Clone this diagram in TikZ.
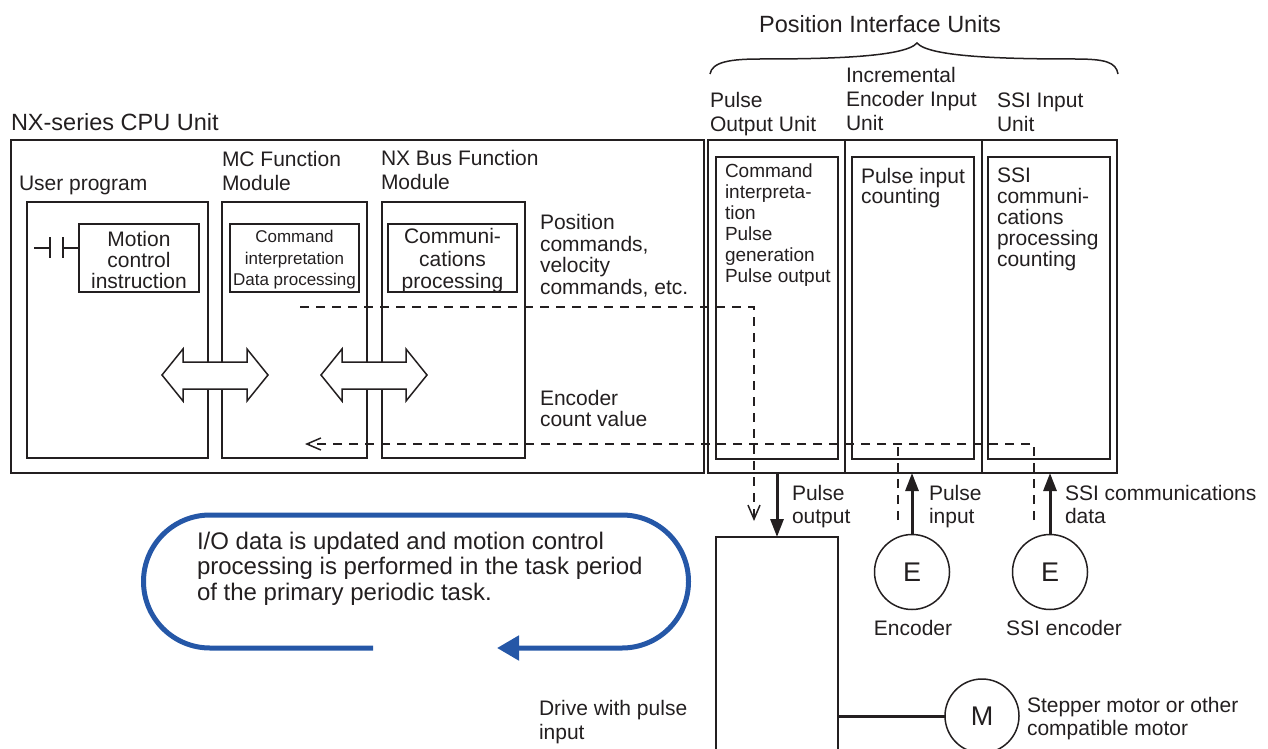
\documentclass[tikz,border=0pt]{standalone}
\usepackage{fontspec}
\setmainfont{Liberation Sans}
\usetikzlibrary{arrows.meta}
\definecolor{ink}{HTML}{231F20}
\definecolor{loopblue}{HTML}{2557A7}
\begin{document}
\begin{tikzpicture}[x=1pt,y=-1pt,
  every node/.style={inner sep=0pt, outer sep=0pt, text=ink},
  box/.style={draw=ink, line width=1.5pt, anchor=north west},
  unitbox/.style={draw=ink, line width=2.8pt, anchor=north west},
  fa/.style={font=\fontsize{21}{24}\selectfont, align=left, anchor=north west},
  fb/.style={font=\fontsize{21}{21}\selectfont, align=left, anchor=north west},
  fbig/.style={font=\fontsize{23.5}{26}\selectfont},
  dashline/.style={draw=ink, line width=1.5pt, dash pattern=on 9pt off 7pt},
  openhead/.style={-{Straight Barb[length=14pt,width=12pt]}},
  thickarrow/.style={draw=ink, line width=3pt, -{Triangle[length=18pt,width=13pt]}},
  encircle/.style={circle, draw=ink, line width=1.5pt, minimum size=75pt, font=\fontsize{27}{27}\selectfont},
  dblarrow/.style={draw=ink, line width=1.5pt, fill=white, line join=miter}
]
\path[use as bounding box, clip] (0,0) rectangle (1268,749);

% titles
\node[fbig, anchor=base] (piu) at (880,33) {Position Interface Units};
\draw[ink, line width=1.5pt] (710,74) .. controls (712,62) and (730,59) .. (760,59)
   .. controls (830,59) and (905,57) .. (917,43)
   .. controls (929,57) and (1004,59) .. (1075,59)
   .. controls (1105,59) and (1116,62) .. (1118,74);
\node[fbig, anchor=base west] (cpulbl) at (11,131) {NX-series CPU Unit};
\node[fa] (poulbl) at (710,92.7) {Pulse\\Output Unit};
\node[fa] (inclbl) at (846,67.7) {Incremental\\Encoder Input\\Unit};
\node[fa] (ssilbl) at (997,92.7) {SSI Input\\Unit};

% CPU unit
\node[unitbox, line width=2.5pt, minimum width=693pt, minimum height=333pt] (cpu) at (11,140) {};
\node[font=\fontsize{21}{21}\selectfont, anchor=base west] (uplbl) at (19,190) {User program};
\node[fa] (mclbl) at (222,151.7) {MC Function\\Module};
\node[fa] (nxlbl) at (381,150.7) {NX Bus Function\\Module};
\node[box, minimum width=181pt, minimum height=256pt] (user) at (27,202) {};
\node[box, minimum width=145pt, minimum height=256pt] (mc) at (222,202) {};
\node[box, minimum width=143pt, minimum height=256pt] (nxb) at (382,202) {};
\node[box, minimum width=120pt, minimum height=68pt] (motion) at (79,224) {};
\node[box, minimum width=129pt, minimum height=68pt] (cmdint) at (230,224) {};
\node[box, minimum width=129pt, minimum height=68pt] (comm) at (388,224) {};
\node[fb, align=center, anchor=north] (motiontxt) at (139,231) {Motion\\control\\instruction};
\node[font=\fontsize{17}{21.5}\selectfont, align=center, anchor=north] (cmdtxt) at (294.5,230.5) {Command\\interpretation\\Data processing};
\node[font=\fontsize{21}{22.5}\selectfont, align=center, anchor=north] (commtxt) at (452.5,228.5) {Communi-\\cations\\processing};
% contact symbol
\draw[ink, line width=1.5pt] (34,248) -- (50,248) (50,237) -- (50,258) (63,237) -- (63,258) (63,248) -- (motion.west |- 0,248);

\node[font=\fontsize{21}{21.5}\selectfont, align=left, anchor=north west] (postxt) at (540,214.5) {Position\\commands,\\velocity\\commands, etc.};
\node[fb] (enctxt) at (540,390.5) {Encoder\\count value};

% double arrows
\draw[dblarrow] (162,375) -- (183,349) -- (183,362) -- (247,362) -- (247,349) -- (268,375) -- (247,401) -- (247,389) -- (183,389) -- (183,401) -- cycle;
\draw[dblarrow] (321,375) -- (342,349) -- (342,362) -- (406,362) -- (406,349) -- (427,375) -- (406,401) -- (406,389) -- (342,389) -- (342,401) -- cycle;

% position interface units
\node[unitbox, minimum width=137pt, minimum height=333pt] (pou) at (708,140) {};
\node[unitbox, minimum width=137pt, minimum height=333pt] (inc) at (845,140) {};
\node[unitbox, minimum width=135pt, minimum height=333pt] (ssi) at (982,140) {};
\node[box, minimum width=122pt, minimum height=302pt] (pouin) at (716,157) {};
\node[box, minimum width=122pt, minimum height=302pt] (incin) at (852,157) {};
\node[box, minimum width=122pt, minimum height=302pt] (ssiin) at (988,157) {};
\node[font=\fontsize{19}{21}\selectfont, align=left, anchor=north west] (poutxt) at (725,163.5) {Command\\interpreta-\\tion\\Pulse\\generation\\Pulse output};
\node[font=\fontsize{21}{20.5}\selectfont, align=left, anchor=north west] (inctxt) at (861,168) {Pulse input\\counting};
\node[fb] (ssitxt) at (997,168) {SSI\\communi-\\cations\\processing\\counting};

% dashed data paths
\coordinate (cmdstart) at (300,307);
\coordinate (cmdend) at (754,521);
\draw[dashline, openhead] (cmdstart) -| (cmdend);
\coordinate (ssitap) at (1034,520);
\coordinate (inctap) at (898,520);
\coordinate (encend) at (305,444);
\draw[dashline, openhead] (ssitap) |- (encend);
\draw[dashline] (inctap) -- (inctap |- encend);

% devices
\node[box, minimum width=122pt, minimum height=240pt] (drive) at (716,537) {};
\node[encircle] (E1) at (912,572) {E};
\node[encircle] (E2) at (1050,572) {E};
\node[encircle, minimum size=74pt] (M) at (982,716) {M};
\draw[thickarrow] (drive.north |- pou.south) -- (drive.north);
\draw[thickarrow] (E1.north) -- (E1.north |- inc.south);
\draw[thickarrow] (E2.north) -- (E2.north |- ssi.south);
\draw[ink, line width=3pt] (drive.east |- M.west) -- (M.west);

\node[fa, font=\fontsize{21}{23.5}\selectfont] (polbl) at (792,485) {Pulse\\output};
\node[fa, font=\fontsize{21}{23.5}\selectfont] (pilbl) at (929,485) {Pulse\\input};
\node[fa, font=\fontsize{21}{23.5}\selectfont] (sdlbl) at (1065,485) {SSI communications\\data};
\node[font=\fontsize{21}{21}\selectfont, anchor=base] (e1lbl) at (913,635) {Encoder};
\node[font=\fontsize{21}{21}\selectfont, anchor=base] (e2lbl) at (1064,635) {SSI encoder};
\node[fa] (drvlbl) at (539,700) {Drive with pulse\\input};
\node[fa, font=\fontsize{21}{23}\selectfont] (mlbl) at (1027,697) {Stepper motor or other\\compatible motor};

% task loop
\coordinate (loopstart) at (373,648);
\coordinate (loopend) at (497,648);
\draw[loopblue, line width=5pt, -{Triangle[length=22pt,width=24pt]}] (loopstart) -- (210,648)
  arc[start angle=270, end angle=90, radius=66.5pt] -- (622,515)
  arc[start angle=90, end angle=-90, radius=66.5pt] -- (loopend);
\node[font=\fontsize{24}{25.5}\selectfont, align=left, anchor=north west] (looptxt) at (197,532) {I/O data is updated and motion control\\processing is performed in the task period\\of the primary periodic task.};
\end{tikzpicture}
\end{document}
